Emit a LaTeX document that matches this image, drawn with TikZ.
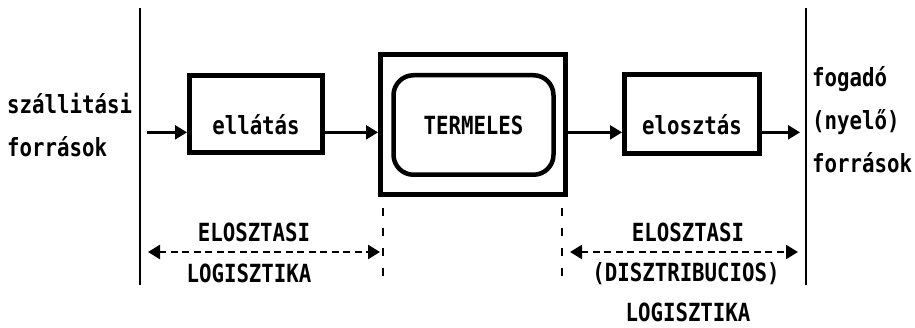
\documentclass[tikz,border=0pt]{standalone}
\usepackage{fontspec}
\newfontfamily\dotfont[FakeStretch=0.83, BoldFont={DejaVu Sans Mono Bold}, BoldFeatures={FakeStretch=0.83}]{DejaVu Sans Mono}
\usetikzlibrary{arrows.meta}

\begin{document}
\begin{tikzpicture}[x=1pt,y=-1pt,
  font=\dotfont\bfseries\fontsize{25}{43}\selectfont,
  block/.style={draw, line width=5pt, minimum width=133pt, minimum height=77pt, text height=41pt, text depth=0pt},
  flow/.style={line width=2.4pt, -{Triangle[length=12pt,width=14pt]}},
  span/.style={line width=2.4pt, dash pattern=on 7pt off 4.5pt, {Triangle[length=12pt,width=14pt]}-{Triangle[length=12pt,width=14pt]}},
  border/.style={line width=2pt},
  guide/.style={line width=2.4pt, dash pattern=on 8pt off 12pt}]
\useasboundingbox (0,0) rectangle (915,328);

\draw[border] (140,8) -- (140,285);
\draw[border] (806,8) -- (806,285);

\node[block] (ell) at (256,114) {ellátás};
\node[draw, line width=5pt, minimum width=185pt, minimum height=140pt] (termo) at (473,124.5) {};
\node[draw, line width=4.5pt, rounded corners=20pt, minimum width=160pt, minimum height=99.5pt] (term) at (473.5,125) {TERMELES};
\node[block, minimum width=135pt, minimum height=79pt] (elo) at (692,114) {elosztás};

\node[anchor=base west, align=left, inner sep=0pt] (src) at (7,157) {szállitási\\források};
\node[anchor=base west, align=left, inner sep=0pt] (snk) at (812,173) {fogadó\\(nyelő)\\források};

\coordinate (in) at (ell.mid west -| 147,0);
\coordinate (out) at (elo.mid east -| 800,0);
\draw[flow] (in) -- (ell.mid west);
\draw[flow] (ell.mid east) -- (ell.mid east -| termo.west);
\draw[flow] (elo.mid west -| termo.east) -- (elo.mid west);
\draw[flow] (elo.mid east) -- (out);

\draw[guide] (383,208) -- (383,282);
\draw[guide] (562,208) -- (562,282);

\coordinate (a1) at (148,252);
\coordinate (a2) at (380,252);
\coordinate (b1) at (570,252);
\coordinate (b2) at (798,252);
\draw[span] (a1) -- (a2);
\draw[span] (b1) -- (b2);

\node[anchor=base, inner sep=1pt] (lab1) at (254,242) {ELOSZTASI};
\node[anchor=base, inner sep=1pt] (lab2) at (249,283) {LOGISZTIKA};
\node[anchor=base, inner sep=1pt] (lab3) at (688,242) {ELOSZTASI};
\node[anchor=base, inner sep=1pt] (lab4) at (686,282) {(DISZTRIBUCIOS)};
\node[anchor=base, inner sep=0pt] (lab5) at (688,322) {LOGISZTIKA};
\end{tikzpicture}
\end{document}
